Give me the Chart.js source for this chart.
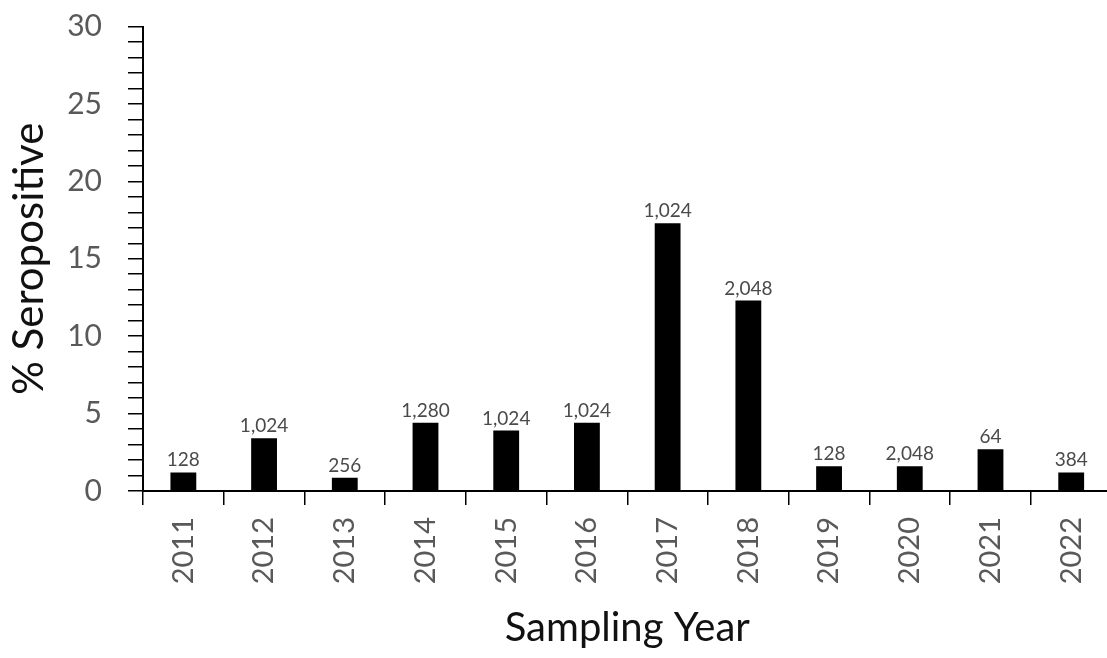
<!DOCTYPE html>
<html>
<head>
<meta charset="utf-8">
<title>% Seropositive by Sampling Year</title>
<script src="https://cdn.jsdelivr.net/npm/chart.js@4/dist/chart.umd.min.js"></script>
<style>
  html, body { margin: 0; padding: 0; background: #fff; overflow: hidden; }
  #wrap { width: 1118px; height: 670px; }
</style>
</head>
<body>
<div id="wrap"><canvas id="chart" width="1118" height="670"></canvas></div>
<script>
// -------------------------
// DATA
// -------------------------
const years = ["2011", "2012", "2013", "2014", "2015", "2016",
               "2017", "2018", "2019", "2020", "2021", "2022"];
const pctSeropositive = [1.2, 3.4, 0.85, 4.4, 3.9, 4.4, 17.3, 12.3, 1.6, 1.6, 2.7, 1.2];
const barNotes = ["128", "1,024", "256", "1,280", "1,024", "1,024",
                  "1,024", "2,048", "128", "2,048", "64", "384"];

const yMin = 0;
const yMax = 30;
const yLabelStep = 5;

Chart.defaults.font.family = "Lato, 'Open Sans', sans-serif";

// text above each bar
const barNotesPlugin = {
  id: "barNotes",
  afterDatasetsDraw(chart) {
    const ctx = chart.ctx;
    const meta = chart.getDatasetMeta(0);
    ctx.save();
    ctx.font = "19px Lato";
    ctx.fillStyle = "#4a4a4a";
    ctx.textAlign = "center";
    ctx.textBaseline = "alphabetic";
    meta.data.forEach((bar, i) => {
      ctx.fillText(barNotes[i], bar.x, bar.y - 6);
    });
    ctx.restore();
  }
};

// -------------------------
// CHART
// -------------------------
const ctx = document.getElementById("chart").getContext("2d");

new Chart(ctx, {
  type: "bar",
  data: {
    labels: years,
    datasets: [{
      data: pctSeropositive,
      backgroundColor: "#000",
      borderWidth: 0,
      barPercentage: 0.32,
      categoryPercentage: 1.0
    }]
  },
  options: {
    responsive: false,
    animation: false,
    layout: { padding: { top: 26.5, right: 0, bottom: 0, left: 0 } },
    plugins: {
      legend: { display: false },
      tooltip: { enabled: false }
    },
    scales: {
      x: {
        offset: true,
        grid: {
          offset: true,
          drawOnChartArea: false,
          drawTicks: true,
          tickLength: 14,
          color: "#000",
          lineWidth: 1.5
        },
        border: { color: "#000", width: 2 },
        ticks: {
          minRotation: 90,
          maxRotation: 90,
          padding: 12,
          color: "#595959",
          font: { size: 29 }
        },
        title: {
          display: true,
          text: "Sampling Year",
          color: "#111",
          font: { size: 40 },
          padding: { top: 0, bottom: 18 }
        },
        afterFit(scale) { scale.height = 670 - 491; }
      },
      y: {
        min: yMin,
        max: yMax,
        grid: {
          drawOnChartArea: false,
          drawTicks: true,
          tickLength: 15,
          color: "#000",
          lineWidth: 1.5
        },
        border: { color: "#000", width: 2 },
        ticks: {
          stepSize: 1,
          autoSkip: false,
          padding: 26,
          color: "#595959",
          font: { size: 30 },
          callback: (v) => (v % yLabelStep === 0 ? v : "")
        },
        title: {
          display: true,
          text: "% Seropositive",
          color: "#111",
          font: { size: 42 },
          padding: { top: 4, bottom: 0 }
        },
        afterFit(scale) {
          scale.width = 143;
          // label padding would otherwise push the plot top down
          scale.paddingTop = 0;
          scale.paddingBottom = 0;
        }
      }
    }
  },
  plugins: [barNotesPlugin]
});
</script>
</body>
</html>
